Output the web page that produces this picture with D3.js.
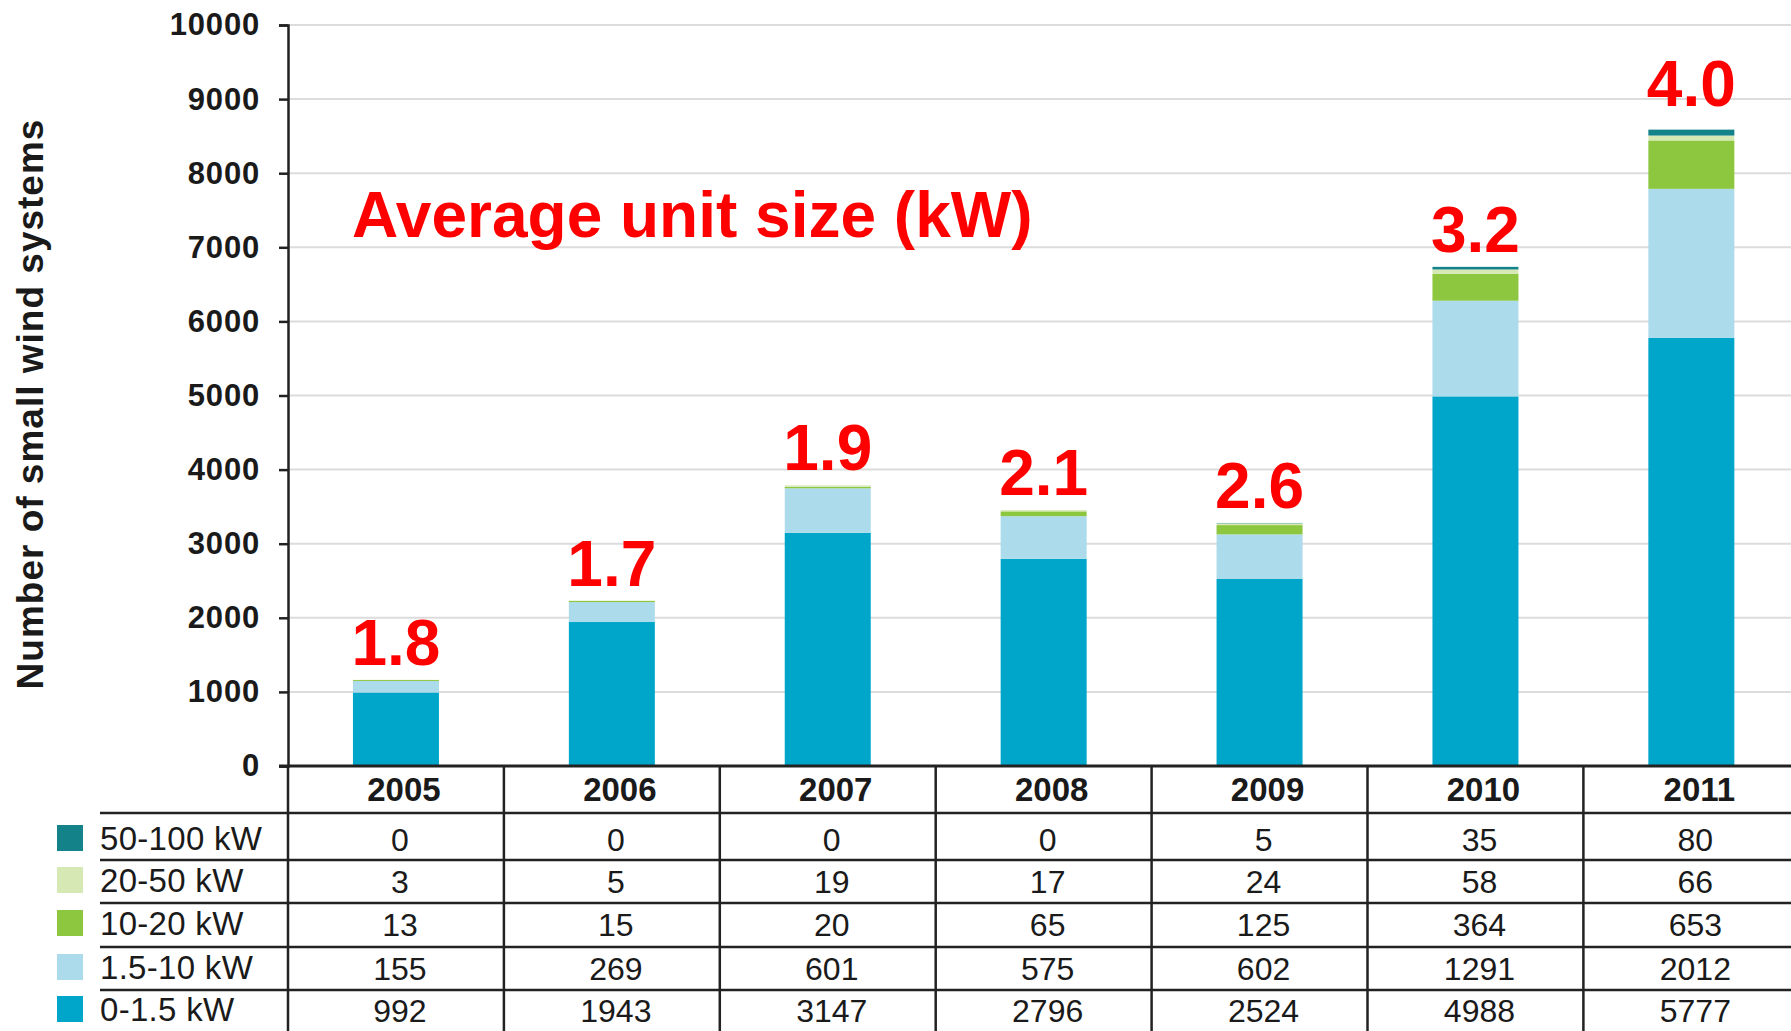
<!DOCTYPE html>
<html>
<head>
<meta charset="utf-8">
<script src="https://cdn.jsdelivr.net/npm/d3@7"></script>
<style>
  body { margin: 0; background: #fff; }
  svg { display: block; font-family: "Liberation Sans", Arial, Helvetica, sans-serif; }
</style>
</head>
<body>
<svg width="1791" height="1031"></svg>
<script>
// data
let years = ["2005", "2006", "2007", "2008", "2009", "2010", "2011"]
let sizeClasses = ["0-1.5 kW", "1.5-10 kW", "10-20 kW", "20-50 kW", "50-100 kW"]
let kw0to1_5 = [992, 1943, 3147, 2796, 2524, 4988, 5777]
let kw1_5to10 = [155, 269, 601, 575, 602, 1291, 2012]
let kw10to20 = [13, 15, 20, 65, 125, 364, 653]
let kw20to50 = [3, 5, 19, 17, 24, 58, 66]
let kw50to100 = [0, 0, 0, 0, 5, 35, 80]
let avgUnitSize = ["1.8", "1.7", "1.9", "2.1", "2.6", "3.2", "4.0"]
let yTicks = [0, 1000, 2000, 3000, 4000, 5000, 6000, 7000, 8000, 9000, 10000]
let colors = ["#00a6c9", "#acdbec", "#8dc63f", "#d6e9b5", "#148289"]

let seriesValues = [kw0to1_5, kw1_5to10, kw10to20, kw20to50, kw50to100]

let rows = years.map((yr, i) => {
  let r = {year: yr}
  sizeClasses.forEach((k, j) => r[k] = seriesValues[j][i])
  return r
})

let svg = d3.select("svg")
let W = +svg.attr("width")
let H = +svg.attr("height")

let x0 = 288, colW = 215.9
let x = d3.scaleBand().domain(years).range([x0, x0 + colW * years.length]).padding(0)
let y = d3.scaleLinear().domain([0, 10000]).range([766, 25])
let barW = 86

// gridlines
svg.append("g")
  .selectAll("line")
  .data(yTicks.slice(1))
  .enter().append("line")
    .attr("x1", x0).attr("x2", W)
    .attr("y1", d => y(d)).attr("y2", d => y(d))
    .attr("stroke", "#dcdcdc")
    .attr("stroke-width", 2)

// stacked bars
let stack = d3.stack().keys(sizeClasses)
let layers = stack(rows)

svg.append("g")
  .selectAll("g")
  .data(layers)
  .enter().append("g")
    .attr("fill", (d, i) => colors[i])
  .selectAll("rect")
  .data(d => d)
  .enter().append("rect")
    .attr("x", d => x(d.data.year) + x.bandwidth() / 2 - barW / 2)
    .attr("y", d => y(d[1]))
    .attr("width", barW)
    .attr("height", d => y(d[0]) - y(d[1]))

// y axis
let yAxis = svg.append("g")
  .attr("transform", "translate(" + x0 + ",0)")
  .call(d3.axisLeft(y).tickValues(yTicks).tickSize(9).tickPadding(19).tickFormat(d3.format("d")))
yAxis.select(".domain").attr("stroke", "#222").attr("stroke-width", 2.5)
yAxis.selectAll(".tick line").attr("stroke", "#222").attr("stroke-width", 2.5)
yAxis.selectAll(".tick text")
  .attr("fill", "#1a1a1a")
  .style("font-size", "31px")
  .style("font-weight", "bold")
  .style("letter-spacing", "0.8px")

svg.append("text")
  .attr("transform", "translate(43,404) rotate(-90)")
  .attr("text-anchor", "middle")
  .attr("fill", "#1a1a1a")
  .style("font-size", "37px")
  .style("font-weight", "bold")
  .style("letter-spacing", "1px")
  .text("Number of small wind systems")

// red annotations
svg.append("text")
  .attr("x", 352).attr("y", 237)
  .attr("fill", "#ff0000")
  .style("font-size", "64px")
  .style("font-weight", "bold")
  .text("Average unit size (kW)")

let totals = rows.map(r => d3.sum(sizeClasses, k => r[k]))
svg.append("g")
  .selectAll("text")
  .data(years)
  .enter().append("text")
    .attr("x", d => x(d) + x.bandwidth() / 2)
    .attr("y", (d, i) => y(totals[i]) - (i === years.length - 1 ? 24 : 15))
    .attr("text-anchor", "middle")
    .attr("fill", "#ff0000")
    .style("font-size", "64px")
    .style("font-weight", "bold")
    .text((d, i) => avgUnitSize[i])

// data table under the chart
let table = svg.append("g")
let lineColor = "#222"
let rowLines = [813, 860, 903, 947, 990]
let rowMid = [840, 882, 925, 969, 1011]

table.append("line")
  .attr("x1", x0 - 9).attr("x2", W)
  .attr("y1", 766).attr("y2", 766)
  .attr("stroke", lineColor).attr("stroke-width", 3)

table.selectAll(".rowline")
  .data(rowLines)
  .enter().append("line")
    .attr("class", "rowline")
    .attr("x1", 100).attr("x2", W)
    .attr("y1", d => d).attr("y2", d => d)
    .attr("stroke", lineColor).attr("stroke-width", 2.5)

table.selectAll(".colline")
  .data(d3.range(years.length + 1))
  .enter().append("line")
    .attr("class", "colline")
    .attr("x1", i => x0 + i * colW).attr("x2", i => x0 + i * colW)
    .attr("y1", 766).attr("y2", H)
    .attr("stroke", lineColor).attr("stroke-width", 2.5)

table.selectAll(".yearlabel")
  .data(years)
  .enter().append("text")
    .attr("class", "yearlabel")
    .attr("x", d => x(d) + x.bandwidth() / 2 + 8)
    .attr("y", 801)
    .attr("text-anchor", "middle")
    .attr("fill", "#1a1a1a")
    .style("font-size", "33px")
    .style("font-weight", "bold")
    .text(d => d)

// rows from top: 50-100 down to 0-1.5
let order = [4, 3, 2, 1, 0]
order.forEach((s, r) => {
  table.append("rect")
    .attr("x", 57).attr("y", rowMid[r] - 13 - 2)
    .attr("width", 26).attr("height", 26)
    .attr("fill", colors[s])
  table.append("text")
    .attr("x", 100).attr("y", rowMid[r] + 10)
    .attr("fill", "#1a1a1a")
    .style("font-size", "33px")
    .style("letter-spacing", "0.3px")
    .text(sizeClasses[s])
  table.selectAll(".v" + s)
    .data(seriesValues[s])
    .enter().append("text")
      .attr("x", (d, i) => x(years[i]) + x.bandwidth() / 2 + 4)
      .attr("y", rowMid[r] + 11)
      .attr("text-anchor", "middle")
      .attr("fill", "#1a1a1a")
      .style("font-size", "32px")
      .text(d => d)
})
</script>
</body>
</html>
